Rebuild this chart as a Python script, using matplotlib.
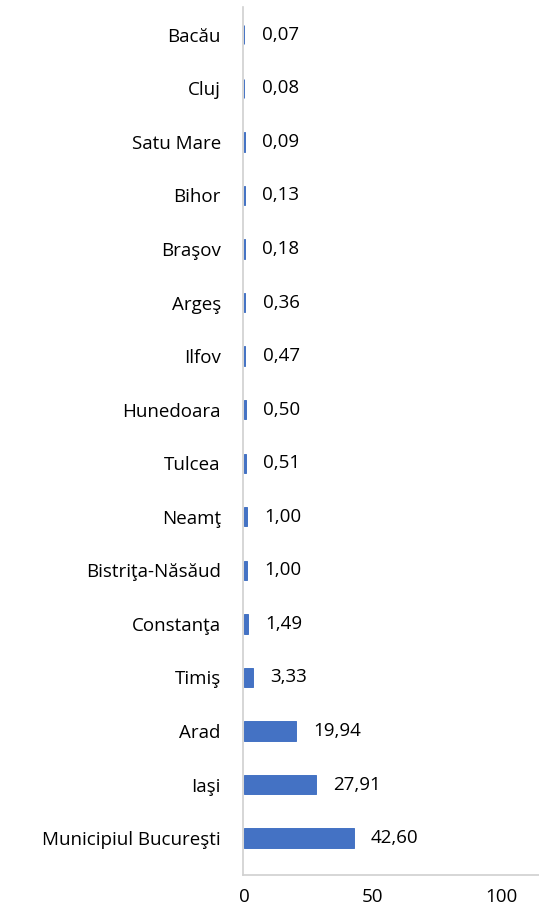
import matplotlib
matplotlib.use("Agg")
import matplotlib.pyplot as plt

plt.rcParams['font.family'] = ['Open Sans', 'DejaVu Sans']

counties = ["Bacău", "Cluj", "Satu Mare", "Bihor", "Braşov", "Argeş", "Ilfov",
            "Hunedoara", "Tulcea", "Neamţ", "Bistriţa-Năsăud", "Constanţa",
            "Timiş", "Arad", "Iaşi", "Municipiul Bucureşti"]
values = [0.07, 0.08, 0.09, 0.13, 0.18, 0.36, 0.47, 0.50, 0.51, 1.00, 1.00,
          1.49, 3.33, 19.94, 27.91, 42.60]
x_ticks = [0, 50, 100]

W, H, DPI = 539, 906, 100
fig = plt.figure(figsize=(W / DPI, H / DPI), dpi=DPI)
ax = fig.add_axes([243 / W, 1 - 875 / H, 1 - 243 / W, (875 - 7) / H])

n = len(counties)
ypos = list(range(n))
# thin outline in the fill colour keeps the tiniest bars visible
ax.barh(ypos, values, height=0.36, color="#4472C4",
        edgecolor="#4472C4", linewidth=0.7, zorder=3)
ax.set_ylim(n - 1 + 0.69, -0.52)
ax.set_xlim(-0.5, 114.7)

for y, v in zip(ypos, values):
    ax.annotate(f"{v:.2f}".replace(".", ","), (v, y), xytext=(12.5, 0),
                textcoords="offset points", va="center", ha="left",
                fontsize=13.5, color="#000000")

ax.set_yticks(ypos)
ax.set_yticklabels(counties, fontsize=13.5)
ax.set_xticks(x_ticks)
ax.set_xticklabels([str(t) for t in x_ticks], fontsize=13.5)
ax.tick_params(axis="y", length=0, pad=16)
ax.tick_params(axis="x", length=0, pad=9)

for side in ("top", "right"):
    ax.spines[side].set_visible(False)
for side in ("left", "bottom"):
    ax.spines[side].set_color("#D0D0D0")
    ax.spines[side].set_linewidth(1.2)
    ax.spines[side].set_zorder(1)

fig.savefig("out.png", dpi=DPI)
